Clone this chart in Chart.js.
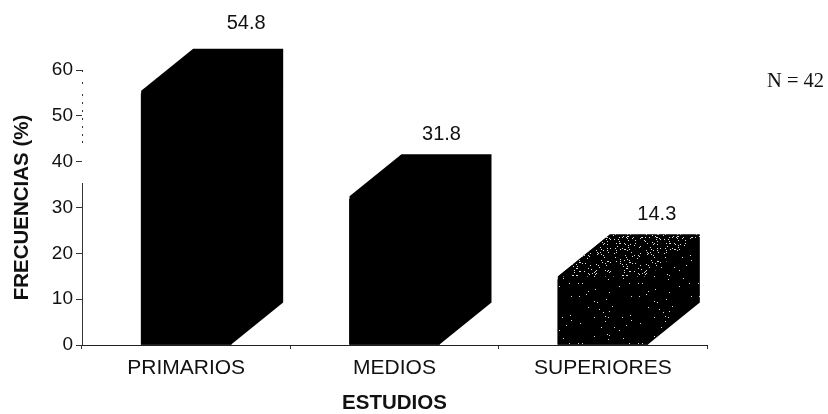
<!DOCTYPE html>
<html>
<head>
<meta charset="utf-8">
<style>html,body{margin:0;padding:0;background:#fff}canvas{display:block}</style>
<script src="https://cdn.jsdelivr.net/npm/chart.js@4"></script>
</head>
<body>
<canvas id="c" width="828" height="414"></canvas>
<script>
const categories = ["PRIMARIOS", "MEDIOS", "SUPERIORES"];
const frecuencias = [54.8, 31.8, 14.3];
const yTicks = [0, 10, 20, 30, 40, 50, 60];
const xTitle = "ESTUDIOS";
const yTitle = "FRECUENCIAS (%)";
const note = "N = 42";

const FONT = '"Liberation Sans", Arial, sans-serif';
const DX = 52, DY = 42, LIFT = 3;

// fixed speckle textures for the third bar
function speckle(size, density, seed) {
  const cv = document.createElement('canvas');
  cv.width = cv.height = size;
  const g = cv.getContext('2d');
  g.fillStyle = '#000'; g.fillRect(0, 0, size, size);
  g.fillStyle = '#ddd';
  let s = seed;
  const next = () => (s = (s * 137 + 59) % 1009) / 1009;
  for (let i = 0; i < density; i++) g.fillRect(Math.floor(next() * size), Math.floor(next() * size), 1, 1);
  return g.createPattern(cv, 'repeat');
}

const bar3d = {
  id: 'bar3d',
  afterDatasetsDraw(chart) {
    const g = chart.ctx;
    const front = speckle(60, 35, 17), top = speckle(50, 170, 31);
    const labelShift = [[60, -25], [47, -20], [54, -20]];
    chart.getDatasetMeta(0).data.forEach((b, i) => {
      const l = b.x - b.width / 2, r = b.x + b.width / 2, t = b.y - LIFT, bt = b.base;
      g.save();
      // front, side and top together as one outline, so no seams show
      g.fillStyle = i === 2 ? front : '#000';
      g.beginPath();
      g.moveTo(l, bt); g.lineTo(r, bt); g.lineTo(r + DX, bt - DY); g.lineTo(r + DX, t - DY);
      g.lineTo(l + DX, t - DY); g.lineTo(l, t); g.closePath();
      g.fill();
      if (i === 2) {
        g.fillStyle = top;
        g.beginPath();
        g.moveTo(l, t); g.lineTo(l + DX, t - DY); g.lineTo(r + DX, t - DY); g.lineTo(r, t); g.closePath();
        g.fill();
      }
      g.fillStyle = '#111';
      g.font = '20px ' + FONT;
      g.textAlign = 'center'; g.textBaseline = 'middle';
      g.fillText(frecuencias[i].toFixed(1), b.x + labelShift[i][0], t - DY + labelShift[i][1]);
      g.restore();
    });
    // broken y axis line, as in the scanned original
    const ya = chart.scales.y;
    g.save();
    g.strokeStyle = '#333';
    g.lineWidth = 1;
    g.setLineDash([2, 10, 2, 10, 2, 6, 2, 6, 2, 6, 2, 6, 2, 6, 2, 5, 2, 40, 162, 10]);
    g.beginPath();
    g.moveTo(Math.round(ya.right) + 0.5, ya.top);
    g.lineTo(Math.round(ya.right) + 0.5, ya.bottom);
    g.stroke();
    g.restore();
    g.save();
    g.fillStyle = '#111';
    g.font = '20.5px "Liberation Serif", "Times New Roman", serif';
    g.textAlign = 'left'; g.textBaseline = 'middle';
    g.fillText(note, 767, 82);
    g.restore();
  }
};

new Chart(document.getElementById('c'), {
  type: 'bar',
  data: {
    labels: categories,
    datasets: [{
      data: frecuencias,
      barThickness: 90,
      backgroundColor: '#000'
    }]
  },
  plugins: [bar3d],
  options: {
    responsive: false,
    animation: false,
    devicePixelRatio: 1,
    layout: { padding: { left: 10, top: 70, right: 121, bottom: 0 } },
    plugins: { legend: { display: false }, tooltip: { enabled: false } },
    scales: {
      x: {
        afterFit: s => { s.height = 69; },
        grid: { drawOnChartArea: false, offset: true, tickLength: 4, color: '#333' },
        border: { color: '#222', width: 1 },
        ticks: { color: '#111', font: { family: FONT, size: 21 }, padding: 7, maxRotation: 0 },
        title: { display: true, text: xTitle, color: '#111', font: { family: FONT, size: 20.5, weight: 'bold', lineHeight: 1 }, padding: 0 }
      },
      y: {
        min: 0, max: 60,
        afterFit: s => { s.width = 72; },
        afterBuildTicks: s => { s.ticks = yTicks.map(v => ({ value: v })); },
        grid: { drawOnChartArea: false, tickLength: 6, color: '#333' },
        border: { display: false },
        ticks: { color: '#111', font: { family: FONT, size: 19 }, padding: 3 },
        title: { display: true, text: yTitle, color: '#111', font: { family: FONT, size: 20.5, weight: 'bold' }, padding: 0 }
      }
    }
  }
});
</script>
</body>
</html>
